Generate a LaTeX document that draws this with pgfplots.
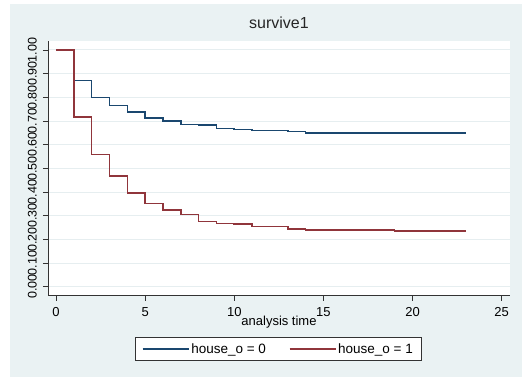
\documentclass[border=0pt]{standalone}
\usepackage{pgfplots}
\pgfplotsset{compat=1.18}
\usepackage{fontspec}
\setmainfont{Liberation Sans}
\definecolor{bgc}{HTML}{EAF2F3}
\definecolor{gridc}{HTML}{E6EEF0}
\definecolor{sblue}{HTML}{1A476F}
\definecolor{sred}{HTML}{90353B}
\definecolor{axc}{HTML}{333333}
\begin{document}
\begin{tikzpicture}[x=1pt,y=1pt]
\path[use as bounding box] (0,0) rectangle (522,377);
\fill[bgc] (10,0) rectangle (522,373);
\begin{axis}[
  at={(48pt,81pt)}, anchor=south west,
  scale only axis, width=462pt, height=255pt,
  xmin=-0.45, xmax=25.47, ymin=-0.039, ymax=1.038,
  axis background/.style={fill=white},
  axis x line*=bottom, axis y line*=left,
  axis line style={axc, line width=1pt, -},
  tick align=outside, major tick length=5pt,
  tick style={axc, line width=0.8pt},
  xtick={0,5,10,15,20,25},
  ytick={0,0.1,0.2,0.3,0.4,0.5,0.6,0.7,0.8,0.9,1.0},
  minor tick num=0,
  ymajorgrids, major grid style={gridc, line width=1pt},
  /pgf/number format/assume math mode=true,
  yticklabel style={/pgf/number format/.cd, fixed, fixed zerofill, precision=2, /tikz/.cd,
     rotate=90, anchor=south, inner sep=0pt, font=\fontsize{12.5}{14}\selectfont},
  yticklabel shift=6pt,
  xticklabel style={font=\fontsize{13}{15}\selectfont, inner sep=0pt, anchor=north},
  xticklabel shift=6pt,
  title={survive1},
  title style={at={(rel axis cs:0.5,1)}, anchor=center, yshift=11.8pt, inner sep=0pt, font=\fontsize{16}{18}\selectfont, text=black!85},
  xlabel={analysis time},
  xlabel style={at={(rel axis cs:0.5,0)}, anchor=center, yshift=-26pt, inner sep=0pt, font=\fontsize{13}{15}\selectfont},
  legend columns=2,
  legend style={at={(0.4989,-0.2078)}, anchor=center, draw=axc, line width=0.9pt, fill=white,
     font=\fontsize{13.5}{15}\selectfont, inner xsep=6.5pt, inner ysep=3.5pt,
     /tikz/every even column/.append style={column sep=21pt}},
  legend image code/.code={\draw[#1, line width=1.2pt] (0pt,0pt) -- (46pt,0pt);},
  legend cell align=left,
]
\addplot[const plot, color=sblue, line width=1.6pt] coordinates {
(0,1) (1,0.871) (2,0.80) (3,0.766) (4,0.737) (5,0.714) (6,0.70) (7,0.686) (8,0.682) (9,0.669) (10,0.665) (11,0.66) (13,0.655) (14,0.65) (23,0.65)};
\addlegendentry{house\_o = 0}
\addplot[const plot, color=sred, line width=1.6pt] coordinates {
(0,1) (1,0.716) (2,0.559) (3,0.469) (4,0.396) (5,0.351) (6,0.323) (7,0.306) (8,0.276) (9,0.268) (10,0.264) (11,0.255) (13,0.245) (14,0.24) (19,0.235) (23,0.235)};
\addlegendentry{house\_o = 1}
\end{axis}
\end{tikzpicture}
\end{document}
